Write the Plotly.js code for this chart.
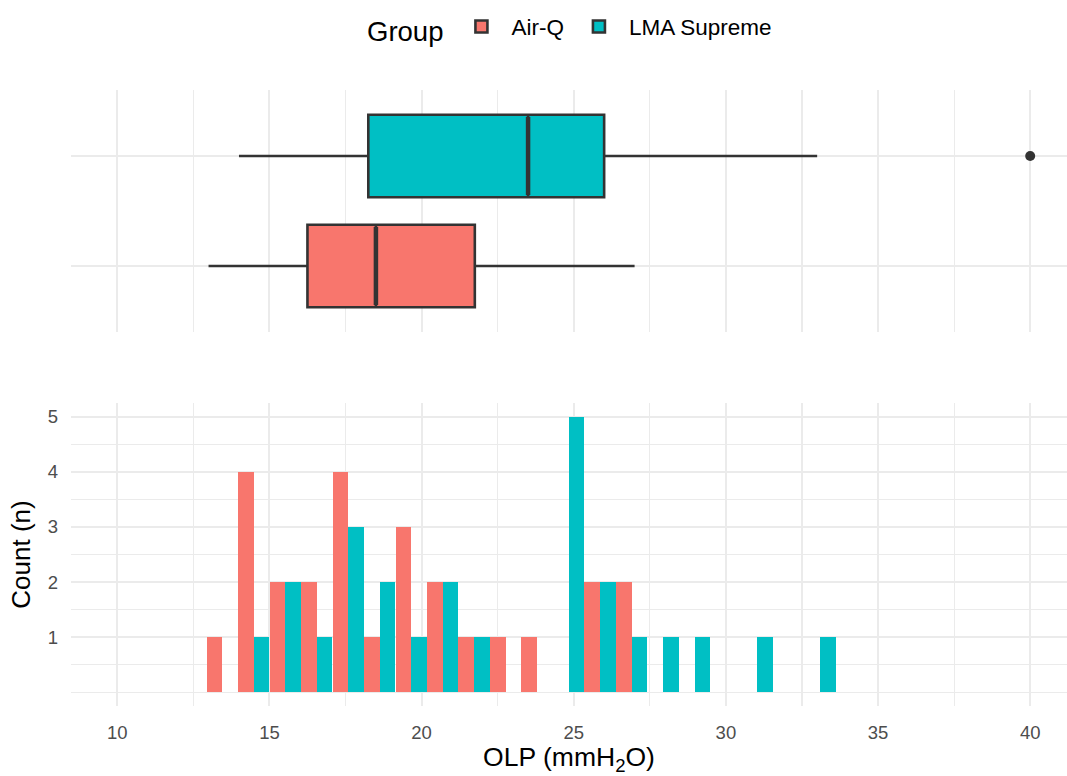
<!DOCTYPE html>
<html>
<head>
<meta charset="utf-8">
<script src="https://cdn.plot.ly/plotly-3.0.1.min.js"></script>
<style>html,body{margin:0;padding:0;background:#fff;}#chart{width:1067px;height:776px;}</style>
</head>
<body>
<div id="chart"></div>
<script>
// ---- data ----
var groups = ['Air-Q', 'LMA Supreme'];
var groupColors = ['#F8766D', '#00BFC4'];
// box plot statistics (OLP, mmH2O)
var boxQ1 = [16.25, 18.25];
var boxMedian = [18.5, 23.5];
var boxQ3 = [21.75, 26.0];
var boxLower = [13, 14];
var boxUpper = [27, 33];
var outlierGroup = ['LMA Supreme'];
var outlierValue = [40];
// histogram bins (centres) and counts
var binCenters = [13.45, 14.48, 15.52, 16.55, 17.59, 18.62, 19.66, 20.69, 21.72, 22.76,
                  23.79, 24.83, 25.86, 26.90, 27.93, 28.97, 30.00, 31.03, 32.07, 33.10];
var airQCounts = [1, 4, 2, 2, 4, 1, 3, 2, 1, 1, 1, 0, 2, 2, 0, 0, 0, 0, 0, 0];
var lmaCounts  = [0, 1, 2, 1, 3, 2, 1, 2, 1, 0, 0, 5, 2, 1, 1, 1, 0, 1, 0, 1];
var xTicks = [10, 15, 20, 25, 30, 35, 40];
var yTicks = [1, 2, 3, 4, 5];

var countsByGroup = [airQCounts, lmaCounts];
var FONT = 'Liberation Sans, Arial, sans-serif';
var GRID = '#EBEBEB';
var BOXW = 0.75;
var traces = [];

groups.forEach(function (g, i) {
  traces.push({
    type: 'box', orientation: 'h', name: g,
    y: [i], q1: [boxQ1[i]], median: [boxMedian[i]], q3: [boxQ3[i]],
    lowerfence: [boxLower[i]], upperfence: [boxUpper[i]],
    xaxis: 'x2', yaxis: 'y2',
    width: BOXW, whiskerwidth: 0,
    fillcolor: groupColors[i],
    line: {color: '#333333', width: 2.6},
    boxpoints: false, showlegend: true, legendgroup: g,
    hoverinfo: 'skip'
  });
  // thicker median line (ggplot fatten)
  traces.push({
    type: 'scatter', mode: 'lines',
    x: [boxMedian[i], boxMedian[i]], y: [i - BOXW / 2 + 0.02, i + BOXW / 2 - 0.02],
    xaxis: 'x2', yaxis: 'y2', line: {color: '#333333', width: 4.5},
    showlegend: false, hoverinfo: 'skip'
  });
});
traces.push({
  type: 'scatter', mode: 'markers', x: outlierValue,
  y: outlierGroup.map(function (g) { return groups.indexOf(g); }),
  xaxis: 'x2', yaxis: 'y2', marker: {color: '#333333', size: 10},
  showlegend: false, hoverinfo: 'skip'
});
groups.forEach(function (g, i) {
  traces.push({
    type: 'bar', name: g, x: binCenters, y: countsByGroup[i],
    xaxis: 'x', yaxis: 'y',
    marker: {color: groupColors[i], line: {width: 0}},
    showlegend: false, legendgroup: g, hoverinfo: 'skip'
  });
});

var xRange = [8.48, 41.21];
var layout = {
  width: 1067, height: 776,
  paper_bgcolor: '#ffffff', plot_bgcolor: '#ffffff',
  font: {family: FONT, color: '#000000'},
  margin: {l: 71, r: 0, t: 90, b: 70},
  barmode: 'group', bargap: 0, bargroupgap: 0,
  boxmode: 'overlay',
  showlegend: true,
  legend: {
    orientation: 'h', x: 0.502, xanchor: 'center', y: 1.1, yanchor: 'middle',
    title: {text: 'Group', font: {size: 27.5, color: '#000'}, side: 'left'},
    font: {size: 22.5, color: '#000'}, traceorder: 'normal',
    itemwidth: 50
  },
  xaxis: {
    domain: [0, 1], anchor: 'y', range: xRange,
    tickmode: 'array', tickvals: xTicks,
    showgrid: true, gridcolor: GRID, gridwidth: 2,
    minor: {dtick: 2.5, tick0: 0, showgrid: true, gridcolor: GRID, gridwidth: 1.1},
    zeroline: false, showline: false, ticks: '',
    tickfont: {size: 18.5, color: '#4D4D4D'}, ticklabelstandoff: 13,
    title: {text: 'OLP (mmH<sub>2</sub>O)', font: {size: 26.5, color: '#000'}, standoff: 6}
  },
  yaxis: {
    domain: [0, 0.4919], anchor: 'x', range: [-0.25, 5.25],
    tickmode: 'array', tickvals: yTicks,
    showgrid: true, gridcolor: GRID, gridwidth: 2,
    minor: {tickvals: [0, 0.5, 1.5, 2.5, 3.5, 4.5], showgrid: true, gridcolor: GRID, gridwidth: 1.1},
    zeroline: false, showline: false, ticks: '',
    tickfont: {size: 18.5, color: '#4D4D4D'}, ticklabelstandoff: 12,
    title: {text: 'Count (n)', font: {size: 26, color: '#000'}, standoff: 9}
  },
  xaxis2: {
    domain: [0, 1], anchor: 'y2', range: xRange, matches: 'x',
    tickmode: 'array', tickvals: xTicks, showticklabels: false,
    showgrid: true, gridcolor: GRID, gridwidth: 2,
    minor: {dtick: 2.5, tick0: 0, showgrid: true, gridcolor: GRID, gridwidth: 1.1},
    zeroline: false, showline: false, ticks: ''
  },
  yaxis2: {
    domain: [0.6071, 1], anchor: 'x2', range: [-0.6, 1.6],
    tickmode: 'array', tickvals: [0, 1], showticklabels: false,
    showgrid: true, gridcolor: GRID, gridwidth: 2,
    zeroline: false, showline: false, ticks: ''
  }
};

Plotly.newPlot('chart', traces, layout, {displayModeBar: false, staticPlot: true});
</script>
</body>
</html>
